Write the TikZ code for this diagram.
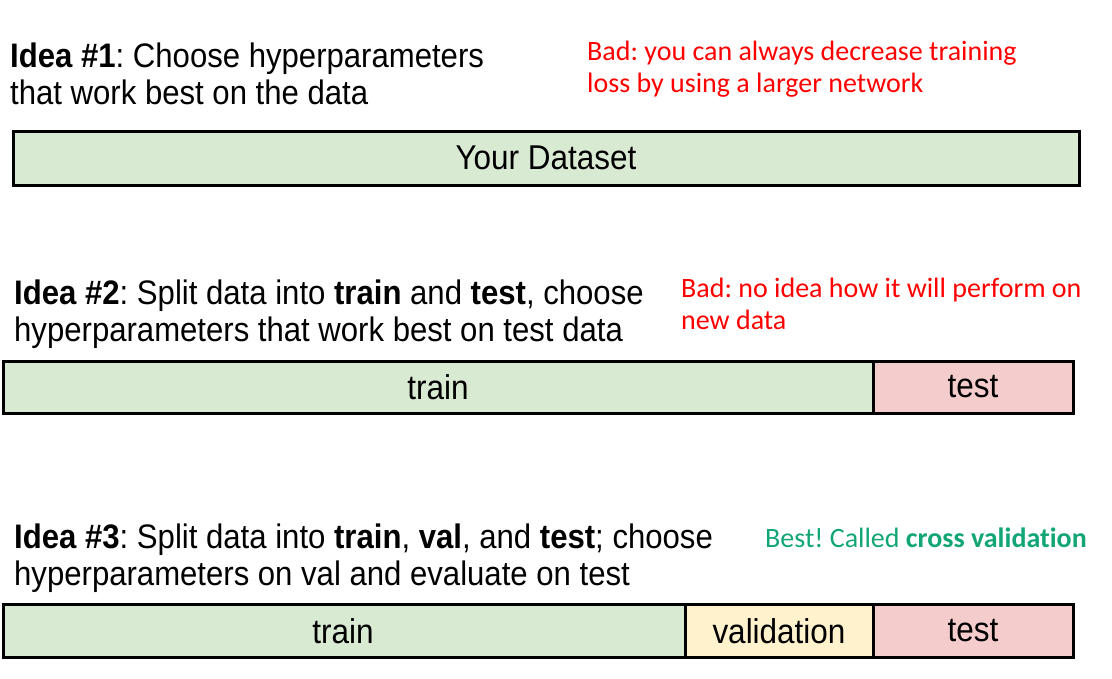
\documentclass[tikz,border=0pt]{standalone}
\usepackage{fontspec}
\setmainfont{Liberation Sans}[FakeStretch=0.915]
\newfontfamily\notefont{Carlito}[Ligatures=NoCommon]
\definecolor{trainfill}{HTML}{D9EAD3}
\definecolor{testfill}{HTML}{F4CCCC}
\definecolor{valfill}{HTML}{FFF2CC}
\definecolor{badred}{HTML}{FF0000}
\definecolor{bestgreen}{RGB}{18,166,118}
\begin{document}
\frenchspacing
\begin{tikzpicture}[x=1pt,y=-1pt,
  idea/.style={anchor=base west,inner sep=0pt,font=\fontsize{34}{40}\selectfont},
  note/.style={anchor=base west,inner sep=0pt,font=\notefont\fontsize{28}{33}\selectfont},
  part/.style={draw=black,line width=3pt},
  lbl/.style={inner sep=0pt,font=\fontsize{34.4}{40}\selectfont}]
\useasboundingbox (0,0) rectangle (1112,678);

% Idea 1
\node[idea] (i1a) at (10,67) {\textbf{Idea \#1}: Choose hyperparameters};
\node[idea] (i1b) at (10,104) {that work best on the data};
\node[note,text=badred] (n1a) at (587,60) {Bad: you can always decrease training};
\node[note,text=badred] (n1b) at (587,92) {loss by using a larger network};
\draw[part,fill=trainfill] (13,131) rectangle (1079,185);
\node[lbl] (ds) at (546,158) {Your Dataset};

% Idea 2
\node[idea] (i2a) at (14,304) {\textbf{Idea \#2}: Split data into \textbf{train} and \textbf{test}, choose};
\node[idea] (i2b) at (14,341) {hyperparameters that work best on test data};
\node[note,text=badred] (n2a) at (681,297) {Bad: no idea how it will perform on};
\node[note,text=badred] (n2b) at (681,329) {new data};
\draw[part,fill=trainfill] (3,361) rectangle (873,413);
\draw[part,fill=testfill] (873,361) rectangle (1073,413);
\node[lbl] (tr2) at (438,387) {train};
\node[lbl] (te2) at (973,387) {test};

% Idea 3
\node[idea] (i3a) at (14,548) {\textbf{Idea \#3}: Split data into \textbf{train}, \textbf{val}, and \textbf{test}; choose};
\node[idea] (i3b) at (14,585) {hyperparameters on val and evaluate on test};
\node[note,text=bestgreen] (n3) at (765,547) {Best! Called \textbf{cross validation}};
\draw[part,fill=trainfill] (3,604) rectangle (685,657);
\draw[part,fill=valfill] (685,604) rectangle (873,657);
\draw[part,fill=testfill] (873,604) rectangle (1073,657);
\node[lbl] (tr3) at (343,631) {train};
\node[lbl] (va3) at (779,631) {validation};
\node[lbl] (te3) at (973,631) {test};
\end{tikzpicture}
\end{document}
